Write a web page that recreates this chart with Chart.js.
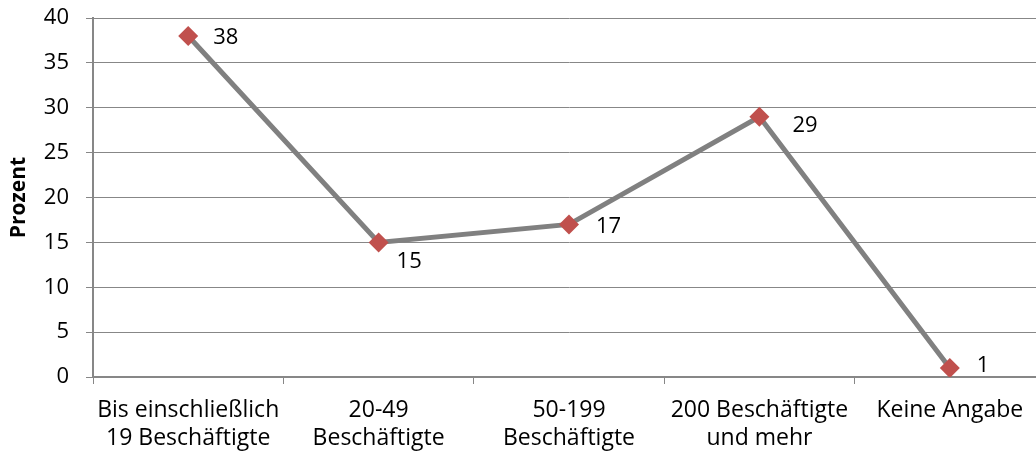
<!DOCTYPE html>
<html>
<head>
<meta charset="utf-8">
<script src="https://cdn.jsdelivr.net/npm/chart.js@4.4.0/dist/chart.umd.min.js"></script>
<style>
    html, body { margin: 0; padding: 0; background: #fff; overflow: hidden; }
    canvas { display: block; }
</style>
</head>
<body>
<canvas id="chart" width="1055" height="458"></canvas>
<script>
// ===== DATOS =====
const categories = [
    ["Bis einschließlich", "19 Beschäftigte"],
    ["20-49", "Beschäftigte"],
    ["50-199", "Beschäftigte"],
    ["200 Beschäftigte", "und mehr"],
    "Keine Angabe"
];
const values = [38, 15, 17, 29, 1];
const yTicks = [0, 5, 10, 15, 20, 25, 30, 35, 40];

const gridColor = "#878787";
const fontFamily = "'Open Sans', sans-serif";
const fontSize = 22;

// etiquetas de valor junto a cada punto (desplazamiento en px)
const labelOffsets = [[25, 2], [18, 19], [27, 2], [33, 9], [27, -2]];

const valueLabels = {
    id: "valueLabels",
    afterDatasetsDraw(chart) {
        const ctx = chart.ctx;
        const meta = chart.getDatasetMeta(0);
        ctx.save();
        ctx.font = fontSize + "px " + fontFamily;
        ctx.fillStyle = "#000";
        ctx.textBaseline = "middle";
        ctx.textAlign = "left";
        meta.data.forEach((pt, i) => {
            const off = labelOffsets[i];
            ctx.fillText(String(values[i]), pt.x + off[0], pt.y + off[1]);
        });
        ctx.restore();
    }
};

new Chart(document.getElementById("chart"), {
    type: "line",
    data: {
        labels: categories,
        datasets: [{
            data: values,
            borderColor: "#808080",
            borderWidth: 5,
            tension: 0,
            pointStyle: "rectRot",
            pointRadius: 10,
            pointHoverRadius: 10,
            pointBackgroundColor: "#C0504D",
            pointBorderColor: "#C0504D",
            pointBorderWidth: 0
        }]
    },
    options: {
        responsive: false,
        animation: false,
        events: [],
        layout: { padding: { top: 18, right: 0, left: 0, bottom: 0 } },
        plugins: {
            legend: { display: false },
            tooltip: { enabled: false }
        },
        scales: {
            x: {
                offset: true,
                grid: {
                    offset: true,
                    drawOnChartArea: false,
                    drawTicks: true,
                    tickLength: 7,
                    color: gridColor,
                    lineWidth: 1
                },
                border: { color: gridColor, width: 2 },
                ticks: {
                    color: "#000",
                    font: { family: fontFamily, size: 23, lineHeight: 1.24 },
                    maxRotation: 0,
                    autoSkip: false,
                    padding: 12
                },
                afterFit(scale) { scale.height = 81; }
            },
            y: {
                min: 0,
                max: 40,
                afterBuildTicks(scale) { scale.ticks = yTicks.map(v => ({ value: v })); },
                grid: {
                    color: gridColor,
                    lineWidth: 1,
                    tickLength: 7
                },
                border: { color: gridColor, width: 2 },
                ticks: {
                    color: "#000",
                    font: { family: fontFamily, size: fontSize },
                    padding: 17
                },
                title: {
                    display: true,
                    text: "Prozent",
                    color: "#000",
                    font: { family: fontFamily, size: 21, weight: "bold" },
                    padding: { top: 6, bottom: 0 }
                },
                afterFit(scale) {
                    scale.width = 93;
                    scale.paddingTop = 0;
                    scale.paddingBottom = 0;
                }
            }
        }
    },
    plugins: [valueLabels]
});
</script>
</body>
</html>
